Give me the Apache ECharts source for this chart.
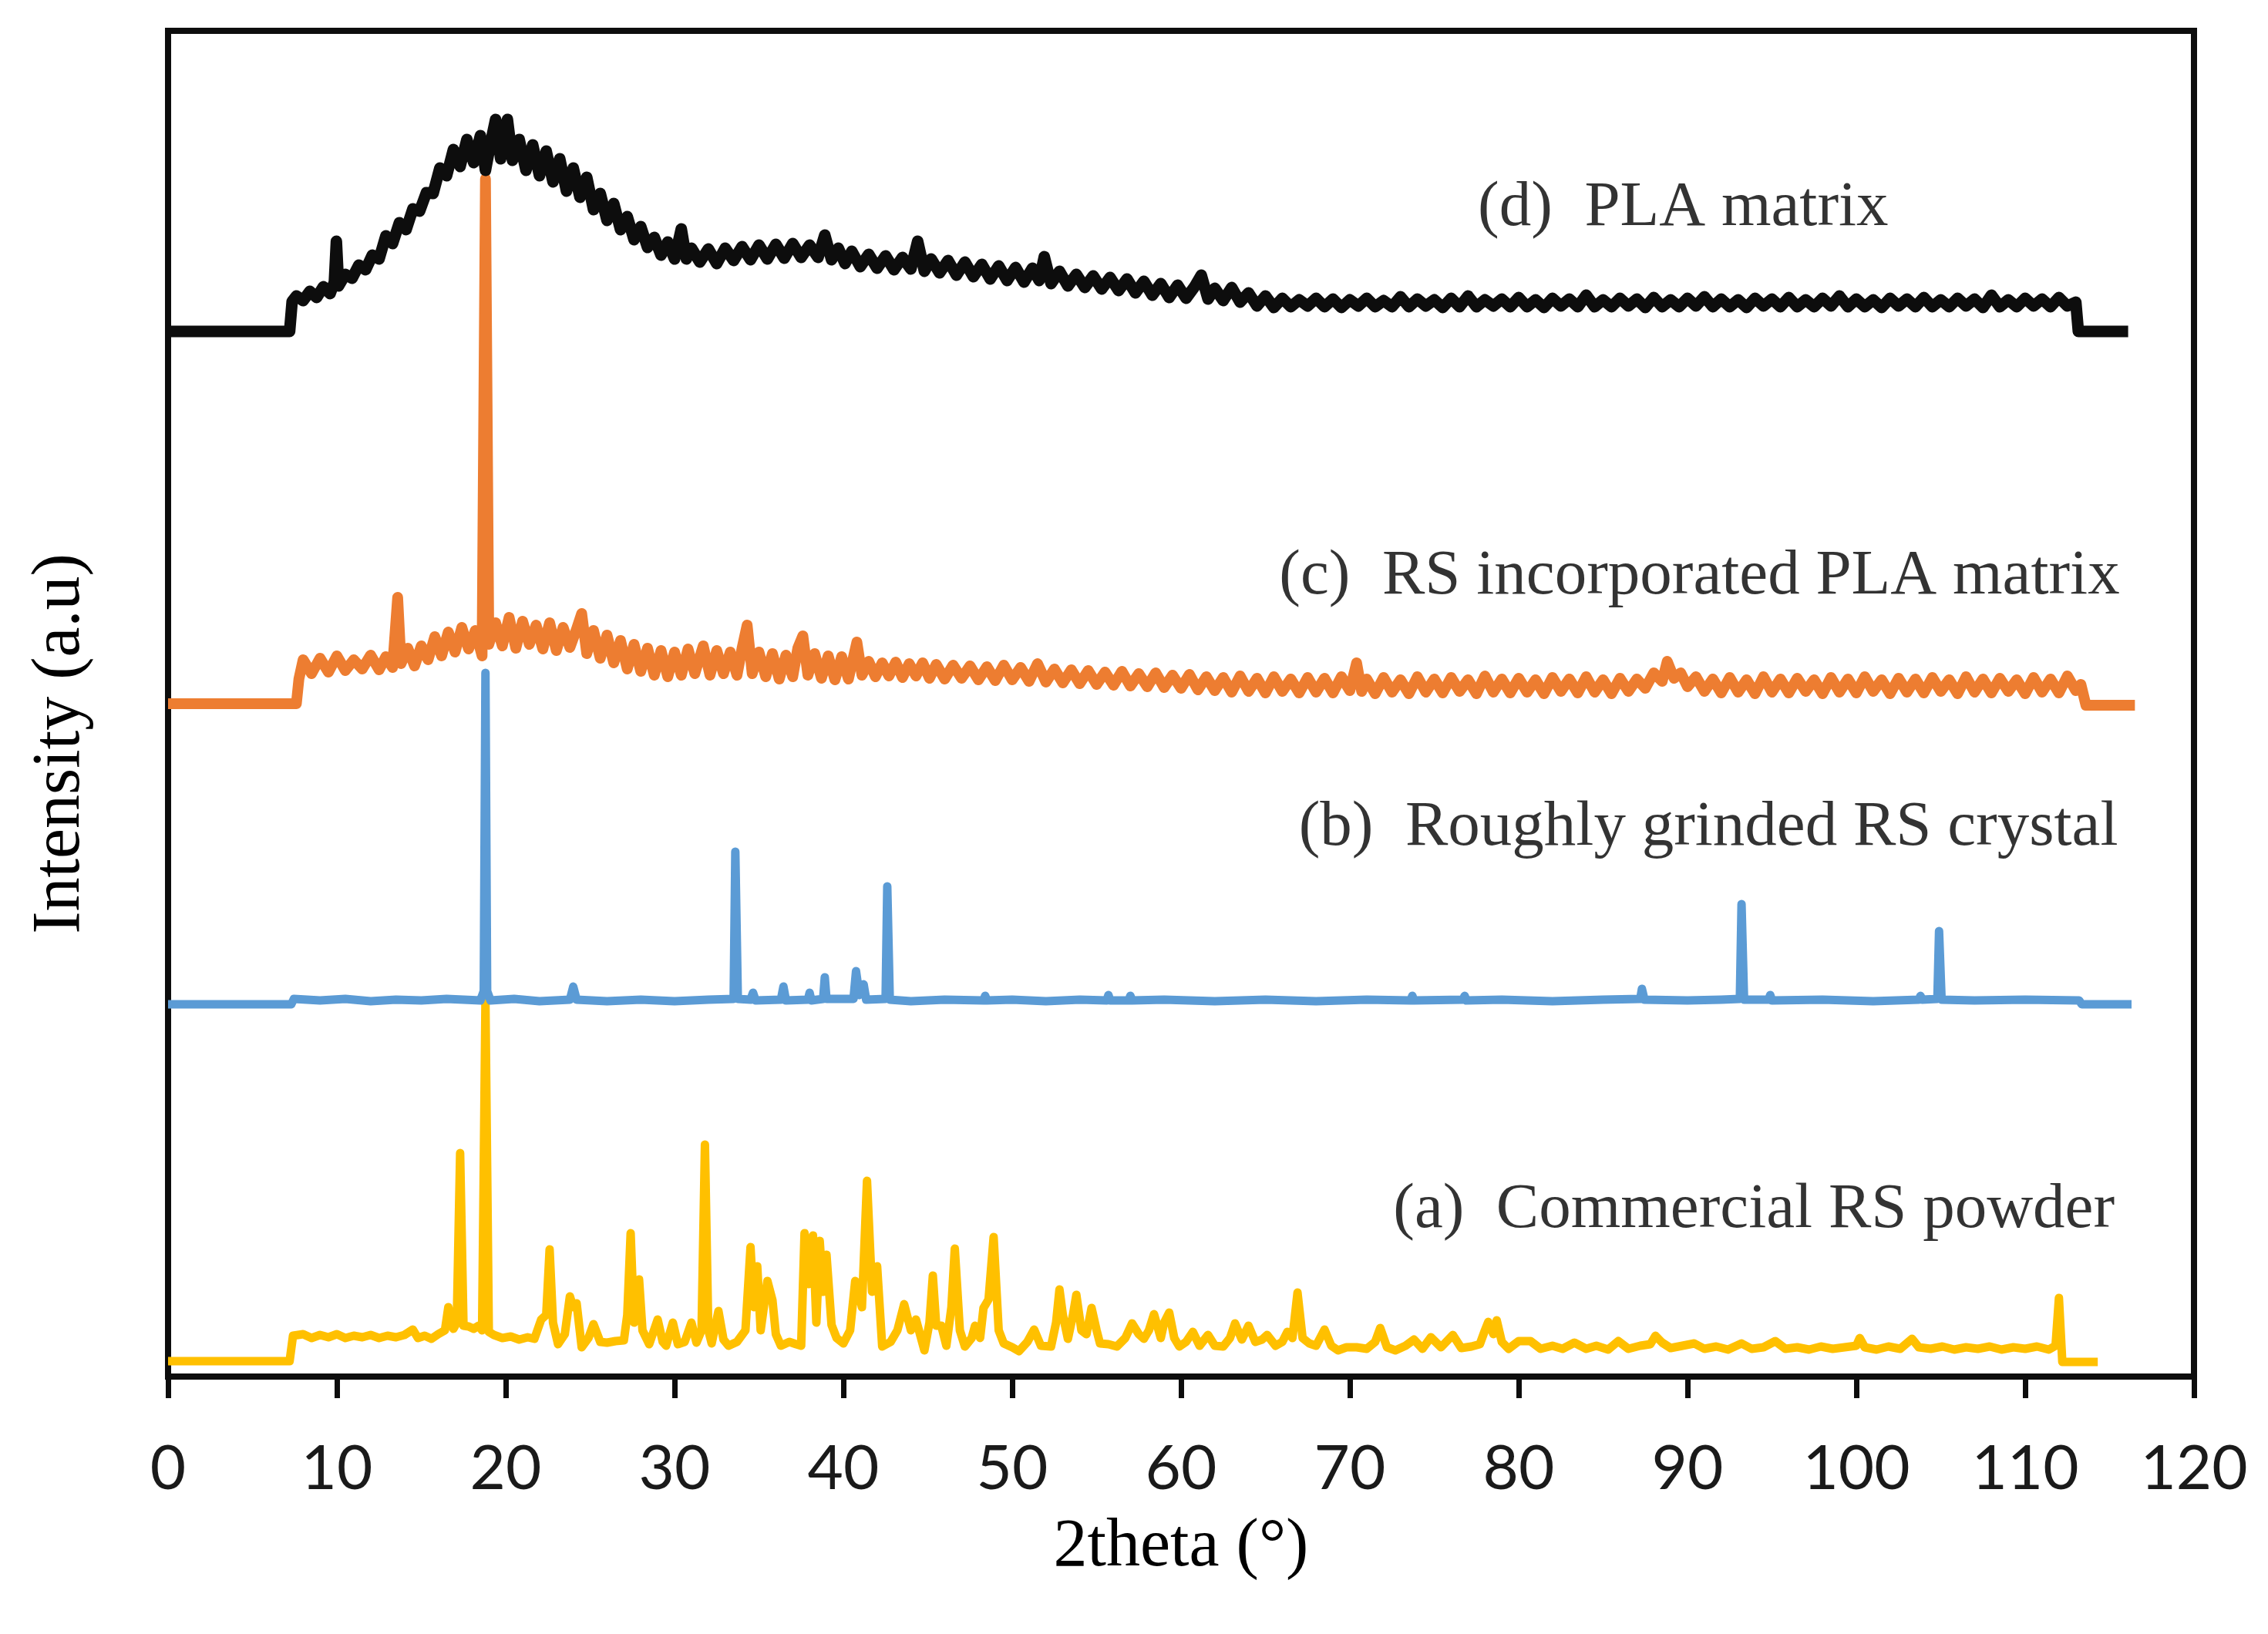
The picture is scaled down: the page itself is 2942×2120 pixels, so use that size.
<!DOCTYPE html>
<html>
<head>
<meta charset="utf-8">
<title>XRD patterns</title>
<script src="https://cdn.jsdelivr.net/npm/echarts/dist/echarts.min.js"></script>
<style>
  html, body { margin: 0; padding: 0; background: #fff; }
  #chart { width: 2942px; height: 2120px; }
</style>
</head>
<body>
<div id="chart"></div>
<script>
// x = 2theta (deg), y = intensity (a.u., traces stacked with offsets)
var commercialRS = [
  [0, 20], [7.2, 20], [7.4, 53], [8, 55], [8.5, 50], [9, 54], [9.5, 51], [10, 55], [10.5, 50], [11, 53], [11.5, 51], [12, 54],
  [12.5, 50], [13, 53], [13.5, 51], [14, 54], [14.5, 61], [14.8, 50], [15.2, 53], [15.6, 49], [16, 55], [16.4, 60], [16.6, 90],
  [16.9, 62], [17.1, 70], [17.3, 290], [17.5, 66], [17.8, 65], [18.1, 62], [18.4, 66], [18.6, 60], [18.8, 486], [19.0, 58],
  [19.3, 54], [19.8, 50], [20.3, 52], [20.8, 48], [21.3, 51], [21.7, 49], [22.1, 74], [22.4, 80], [22.6, 165], [22.8, 70],
  [23.1, 42], [23.5, 55], [23.8, 104], [24.0, 90], [24.2, 95], [24.5, 38], [24.9, 50], [25.2, 68], [25.6, 45], [26.0, 44],
  [26.5, 46], [27.0, 47], [27.2, 80], [27.4, 186], [27.6, 70], [27.9, 126], [28.1, 60], [28.5, 42], [29.0, 74], [29.3, 45],
  [29.5, 40], [29.9, 70], [30.2, 42], [30.6, 45], [31.0, 70], [31.3, 44], [31.6, 60], [31.8, 301], [32.0, 60], [32.2, 43],
  [32.6, 85], [32.9, 48], [33.2, 40], [33.7, 45], [34.2, 60], [34.5, 168], [34.7, 90], [34.9, 143], [35.1, 60], [35.5, 124],
  [35.8, 99], [36.0, 55], [36.3, 40], [36.8, 45], [37.2, 42], [37.5, 40], [37.7, 186], [37.95, 120], [38.2, 183], [38.4, 70],
  [38.6, 176], [38.8, 110], [39.0, 158], [39.3, 67], [39.6, 50], [40.0, 43], [40.4, 60], [40.7, 124], [40.9, 110], [41.1, 90],
  [41.4, 254], [41.7, 110], [42.0, 143], [42.3, 39], [42.8, 45], [43.2, 60], [43.6, 94], [44.0, 60], [44.3, 74], [44.8, 34],
  [45.1, 70], [45.3, 131], [45.5, 66], [45.8, 66], [46.1, 40], [46.4, 90], [46.6, 166], [46.9, 60], [47.2, 39], [47.6, 50],
  [47.8, 66], [48.1, 50], [48.3, 89], [48.6, 100], [48.9, 181], [49.2, 60], [49.5, 43], [50.0, 38], [50.4, 33], [50.9, 45],
  [51.3, 61], [51.7, 40], [52.3, 39], [52.6, 70], [52.8, 113], [53.0, 80], [53.3, 49], [53.6, 80], [53.8, 106], [54.1, 60],
  [54.4, 55], [54.7, 89], [55.0, 60], [55.2, 43], [55.7, 42], [56.2, 39], [56.7, 50], [57.1, 69], [57.5, 55], [57.8, 49],
  [58.1, 60], [58.4, 81], [58.8, 50], [59.0, 70], [59.3, 83], [59.6, 50], [59.9, 39], [60.3, 45], [60.7, 58], [61.1, 40],
  [61.6, 54], [62.0, 40], [62.5, 39], [62.9, 50], [63.2, 69], [63.6, 48], [64.0, 66], [64.4, 45], [64.8, 48], [65.1, 54],
  [65.6, 40], [66.0, 45], [66.3, 58], [66.6, 50], [66.9, 109], [67.2, 50], [67.6, 43], [68.0, 40], [68.5, 61], [68.9, 40],
  [69.3, 34], [69.8, 38], [70.4, 38], [71.0, 36], [71.5, 45], [71.8, 63], [72.2, 38], [72.7, 34], [73.3, 40], [73.8, 48],
  [74.3, 36], [74.8, 51], [75.4, 38], [76.1, 54], [76.6, 37], [77.2, 39], [77.7, 42], [78.0, 60], [78.2, 71], [78.5, 55],
  [78.7, 73], [79.0, 45], [79.4, 36], [80.0, 46], [80.7, 46], [81.3, 36], [82.0, 40], [82.6, 36], [83.3, 44], [84.0, 36],
  [84.6, 40], [85.3, 35], [85.9, 46], [86.5, 36], [87.2, 40], [87.8, 42], [88.1, 53], [88.5, 44], [89.0, 37], [89.7, 40],
  [90.4, 43], [91.0, 36], [91.7, 39], [92.4, 35], [93.2, 43], [93.8, 36], [94.5, 38], [95.2, 46], [95.8, 36], [96.5, 38],
  [97.2, 35], [97.9, 39], [98.6, 36], [99.3, 38], [100.0, 40], [100.2, 50], [100.5, 38], [101.2, 35], [101.9, 39], [102.6, 36],
  [103.3, 49], [103.7, 38], [104.4, 36], [105.1, 39], [105.8, 35], [106.5, 38], [107.2, 36], [107.9, 39], [108.6, 35],
  [109.3, 38], [110.0, 36], [110.7, 39], [111.4, 35], [111.8, 40], [112.0, 102], [112.2, 19], [114.3, 19]
];

var groundRS = [
  [0, 483], [7.3, 483], [7.45, 490], [9, 488], [10.5, 490], [12, 487], [13.5, 489], [15, 488], [16.5, 490], [18.5, 488],
  [18.7, 500], [18.8, 913], [18.9, 500], [19.1, 488], [20.5, 490], [22, 487], [23.8, 489], [24.0, 506], [24.2, 489], [26, 487],
  [28, 489], [30, 487], [32, 489], [33.5, 490], [33.6, 681], [33.75, 490], [34.5, 489], [34.65, 498], [34.8, 488], [36.3, 489],
  [36.45, 506], [36.6, 488], [37.9, 489], [38.0, 498], [38.1, 488], [38.8, 490], [38.9, 518], [39.0, 490], [40.6, 490],
  [40.75, 526], [40.95, 495], [41.2, 509], [41.35, 489], [42.5, 490], [42.6, 636], [42.75, 489], [44, 487], [46, 489],
  [48.3, 488], [48.4, 494], [48.5, 488], [50, 489], [52, 487], [54, 489], [55.6, 488], [55.7, 495], [55.8, 488], [56.9, 488],
  [57.0, 494], [57.1, 488], [59, 489], [62, 487], [65, 489], [68, 487], [71, 489], [73.6, 488], [73.7, 494], [73.8, 488],
  [76.7, 489], [76.8, 494], [76.9, 488], [79, 489], [82, 487], [85, 489], [87.2, 490], [87.3, 503], [87.45, 489], [90, 488],
  [92, 489], [93.1, 490], [93.2, 613], [93.35, 489], [94.8, 489], [94.9, 495], [95.0, 488], [98, 489], [101, 487], [103.7, 489],
  [103.8, 494], [103.9, 489], [104.8, 490], [104.9, 578], [105.05, 489], [107, 488], [110, 489], [113.2, 488], [113.35, 483],
  [116.3, 483]
];

var rsPLA = [
  [0, 873], [7.6, 873], [7.75, 905], [8.0, 930], [8.5, 912], [9.0, 932], [9.5, 914], [10.0, 935], [10.5, 916], [11.0, 930],
  [11.5, 918], [12.0, 936], [12.5, 917], [12.9, 934], [13.3, 920], [13.6, 1011], [13.8, 925], [14.2, 945], [14.6, 922],
  [15.0, 948], [15.4, 930], [15.8, 960], [16.2, 935], [16.6, 966], [17.0, 940], [17.4, 972], [17.8, 944], [18.2, 968],
  [18.6, 935], [18.8, 1554], [19.0, 950], [19.4, 978], [19.8, 948], [20.2, 985], [20.6, 945], [21.0, 980], [21.4, 950],
  [21.8, 975], [22.2, 944], [22.6, 978], [23.0, 942], [23.4, 972], [23.8, 946], [24.2, 970], [24.5, 990], [24.8, 938],
  [25.2, 968], [25.6, 932], [26.0, 962], [26.4, 926], [26.8, 955], [27.2, 918], [27.6, 950], [28.0, 915], [28.4, 945],
  [28.8, 910], [29.2, 942], [29.6, 908], [30.0, 940], [30.4, 910], [30.8, 944], [31.2, 912], [31.7, 948], [32.1, 910],
  [32.5, 942], [32.9, 912], [33.3, 940], [33.7, 910], [34.0, 945], [34.3, 975], [34.6, 912], [35.0, 940], [35.4, 908],
  [35.8, 938], [36.2, 905], [36.6, 936], [37.0, 908], [37.3, 945], [37.6, 961], [37.9, 910], [38.3, 938], [38.7, 906],
  [39.1, 935], [39.5, 904], [39.9, 934], [40.3, 905], [40.8, 953], [41.1, 910], [41.5, 928], [41.9, 908], [42.3, 926],
  [42.7, 909], [43.1, 927], [43.5, 907], [43.9, 925], [44.3, 909], [44.7, 926], [45.1, 906], [45.5, 924], [46.0, 905],
  [46.5, 923], [47.0, 906], [47.5, 922], [48.0, 904], [48.5, 921], [49.0, 903], [49.5, 923], [50.0, 904], [50.5, 920],
  [51.0, 902], [51.5, 925], [52.0, 901], [52.5, 918], [53.0, 900], [53.5, 917], [54.0, 899], [54.5, 916], [55.0, 898],
  [55.5, 914], [56.0, 897], [56.5, 915], [57.0, 896], [57.5, 912], [58.0, 895], [58.5, 913], [59.0, 894], [59.5, 910],
  [60.0, 893], [60.5, 911], [61.0, 891], [61.5, 908], [62.0, 890], [62.5, 907], [63.0, 888], [63.5, 909], [64.0, 889],
  [64.5, 906], [65.0, 887], [65.5, 908], [66.0, 889], [66.5, 905], [67.0, 887], [67.5, 907], [68.0, 888], [68.5, 906],
  [69.0, 887], [69.5, 908], [70.0, 890], [70.4, 926], [70.7, 889], [71.0, 905], [71.5, 886], [72.0, 907], [72.5, 888],
  [73.0, 904], [73.5, 886], [74.0, 908], [74.5, 888], [75.0, 905], [75.5, 887], [76.0, 907], [76.5, 889], [77.0, 904],
  [77.5, 886], [78.0, 909], [78.5, 888], [79.0, 905], [79.5, 887], [80.0, 906], [80.5, 888], [81.0, 904], [81.5, 886],
  [82.0, 907], [82.5, 889], [83.0, 905], [83.5, 887], [84.0, 908], [84.5, 888], [85.0, 904], [85.5, 886], [86.0, 906],
  [86.5, 889], [87.0, 905], [87.5, 893], [88.0, 913], [88.5, 902], [88.8, 928], [89.2, 906], [89.6, 913], [90.0, 895],
  [90.5, 908], [91.0, 889], [91.5, 905], [92.0, 887], [92.5, 907], [93.0, 888], [93.5, 904], [94.0, 886], [94.5, 908],
  [95.0, 888], [95.5, 905], [96.0, 887], [96.5, 906], [97.0, 889], [97.5, 904], [98.0, 886], [98.5, 907], [99.0, 888],
  [99.5, 905], [100.0, 887], [100.5, 908], [101.0, 889], [101.5, 904], [102.0, 886], [102.5, 906], [103.0, 888], [103.5, 905],
  [104.0, 887], [104.5, 907], [105.0, 889], [105.5, 904], [106.0, 886], [106.5, 908], [107.0, 888], [107.5, 905], [108.0, 887],
  [108.5, 906], [109.0, 889], [109.5, 904], [110.0, 886], [110.5, 907], [111.0, 888], [111.5, 905], [112.0, 887], [112.5, 909],
  [113.0, 890], [113.3, 898], [113.6, 871], [116.5, 871]
];

var plaMatrix = [
  [0, 1356], [7.2, 1356], [7.35, 1395], [7.6, 1402], [8.0, 1396], [8.4, 1408], [8.8, 1400], [9.2, 1414], [9.6, 1405],
  [9.85, 1420], [9.97, 1473], [10.1, 1415], [10.5, 1430], [10.9, 1425], [11.3, 1442], [11.7, 1436], [12.1, 1455], [12.5, 1450],
  [12.9, 1480], [13.3, 1470], [13.7, 1497], [14.1, 1488], [14.5, 1515], [14.9, 1512], [15.3, 1536], [15.7, 1535], [16.1, 1568],
  [16.5, 1558], [16.9, 1592], [17.3, 1570], [17.7, 1605], [18.1, 1575], [18.5, 1610], [18.8, 1565], [19.1, 1600], [19.4, 1631],
  [19.7, 1580], [20.1, 1631], [20.4, 1578], [20.8, 1605], [21.2, 1565], [21.6, 1598], [22.0, 1558], [22.4, 1590], [22.8, 1550],
  [23.2, 1580], [23.6, 1538], [24.0, 1568], [24.4, 1530], [24.8, 1556], [25.2, 1514], [25.6, 1535], [26.0, 1500], [26.4, 1522],
  [26.8, 1488], [27.2, 1505], [27.6, 1475], [28.0, 1492], [28.4, 1465], [28.8, 1478], [29.2, 1455], [29.6, 1472], [30.0, 1450],
  [30.4, 1489], [30.7, 1450], [31.0, 1464], [31.5, 1446], [32.0, 1463], [32.5, 1444], [33.0, 1464], [33.5, 1448], [34.0, 1466],
  [34.5, 1449], [35.0, 1468], [35.5, 1450], [36.0, 1469], [36.5, 1451], [37.0, 1470], [37.5, 1452], [38.0, 1468], [38.5, 1452],
  [38.9, 1481], [39.3, 1449], [39.7, 1464], [40.1, 1444], [40.5, 1460], [41.0, 1440], [41.5, 1456], [42.0, 1438], [42.5, 1454],
  [43.0, 1436], [43.5, 1452], [44.0, 1437], [44.4, 1473], [44.8, 1434], [45.2, 1450], [45.7, 1432], [46.2, 1448], [46.7, 1429],
  [47.2, 1446], [47.7, 1427], [48.2, 1443], [48.7, 1424], [49.2, 1441], [49.7, 1422], [50.2, 1439], [50.7, 1420], [51.2, 1438],
  [51.6, 1422], [51.9, 1453], [52.3, 1418], [52.8, 1434], [53.3, 1415], [53.8, 1430], [54.3, 1413], [54.8, 1428], [55.3, 1411],
  [55.8, 1426], [56.3, 1409], [56.8, 1424], [57.3, 1406], [57.8, 1421], [58.3, 1403], [58.8, 1418], [59.3, 1400], [59.8, 1416],
  [60.3, 1399], [60.8, 1414], [61.2, 1429], [61.6, 1398], [62.0, 1412], [62.5, 1396], [63.0, 1413], [63.5, 1394], [64.0, 1406],
  [64.5, 1389], [65.0, 1402], [65.5, 1387], [66.0, 1399], [66.5, 1388], [67.0, 1397], [67.5, 1389], [68.0, 1399], [68.5, 1388],
  [69.0, 1398], [69.5, 1387], [70.0, 1397], [70.5, 1389], [71.0, 1399], [71.5, 1388], [72.0, 1396], [72.5, 1388], [73.0, 1401],
  [73.5, 1388], [74.0, 1398], [74.5, 1389], [75.0, 1397], [75.5, 1387], [76.0, 1399], [76.5, 1388], [77.0, 1402], [77.5, 1388],
  [78.0, 1397], [78.5, 1389], [79.0, 1398], [79.5, 1388], [80.0, 1400], [80.5, 1388], [81.0, 1397], [81.5, 1387], [82.0, 1399],
  [82.5, 1389], [83.0, 1398], [83.5, 1388], [84.0, 1403], [84.5, 1388], [85.0, 1397], [85.5, 1388], [86.0, 1399], [86.5, 1389],
  [87.0, 1398], [87.5, 1387], [88.0, 1400], [88.5, 1388], [89.0, 1397], [89.5, 1388], [90.0, 1399], [90.5, 1389], [91.0, 1401],
  [91.5, 1388], [92.0, 1398], [92.5, 1388], [93.0, 1397], [93.5, 1387], [94.0, 1399], [94.5, 1389], [95.0, 1398], [95.5, 1388],
  [96.0, 1400], [96.5, 1388], [97.0, 1397], [97.5, 1388], [98.0, 1399], [98.5, 1389], [99.0, 1402], [99.5, 1388], [100.0, 1398],
  [100.5, 1388], [101.0, 1397], [101.5, 1387], [102.0, 1399], [102.5, 1389], [103.0, 1398], [103.5, 1388], [104.0, 1400],
  [104.5, 1388], [105.0, 1397], [105.5, 1388], [106.0, 1399], [106.5, 1389], [107.0, 1398], [107.5, 1387], [108.0, 1403],
  [108.5, 1388], [109.0, 1397], [109.5, 1388], [110.0, 1399], [110.5, 1389], [111.0, 1398], [111.5, 1388], [112.0, 1400],
  [112.5, 1389], [113.0, 1394], [113.15, 1356], [116.1, 1356]
];

// trace captions: right end (2theta) and vertical centre (intensity)
var captionText = ['(d)  PLA matrix', '(c)  RS incorporated PLA matrix', '(b)  Roughly grinded RS crystal', '(a)  Commercial RS powder'];
var captionX = [101.9, 115.6, 115.5, 115.3];
var captionY = [1516, 1038, 712, 216];

var xMin = 0, xMax = 120, xStep = 10;
var yMin = 0, yMax = 1746;

var serif = "'Liberation Serif', 'Times New Roman', serif";

function traceSeries(name, color, width, data) {
  return {
    name: name,
    type: 'line',
    data: data,
    showSymbol: false,
    symbol: 'none',
    silent: true,
    animation: false,
    lineStyle: { color: color, width: width, join: 'round' }
  };
}

var myChart = echarts.init(document.getElementById('chart'), null, { renderer: 'canvas' }),
  option = {
    backgroundColor: '#ffffff',
    animation: false,
    grid: {
      left: 218,
      right: 96,
      top: 40,
      bottom: 334,
      show: true,
      borderColor: '#0d0d0d',
      borderWidth: 8
    },
    xAxis: {
      type: 'value',
      min: xMin,
      max: xMax,
      interval: xStep,
      name: '2theta (°)',
      nameLocation: 'middle',
      nameGap: 178,
      nameTextStyle: { fontFamily: serif, fontSize: 88, color: '#000' },
      axisLine: { show: true, lineStyle: { color: '#0d0d0d', width: 8 } },
      axisTick: { show: true, inside: false, length: 28, lineStyle: { color: '#0d0d0d', width: 7 } },
      axisLabel: { fontFamily: 'Lato, sans-serif', fontSize: 80, color: '#1a1a1a', margin: 80 },
      splitLine: { show: false }
    },
    yAxis: {
      type: 'value',
      min: yMin,
      max: yMax,
      axisLine: { show: true, lineStyle: { color: '#0d0d0d', width: 8 } },
      axisTick: { show: false },
      axisLabel: { show: false },
      splitLine: { show: false }
    },
    graphic: [{
      type: 'text',
      x: 79,
      y: 965,
      rotation: Math.PI / 2,
      style: {
        text: 'Intensity (a.u)',
        fontFamily: serif,
        fontSize: 88,
        fill: '#000',
        align: 'center',
        verticalAlign: 'middle'
      }
    }],
    series: [
      traceSeries('Commercial RS powder', '#FFC000', 11, commercialRS),
      traceSeries('Roughly grinded RS crystal', '#5B9BD5', 11, groundRS),
      traceSeries('RS incorporated PLA matrix', '#ED7D31', 14, rsPLA),
      traceSeries('PLA matrix', '#0d0d0d', 15, plaMatrix),
      {
        type: 'scatter',
        symbolSize: 0,
        silent: true,
        animation: false,
        data: captionText.map(function (t, i) {
          return { value: [captionX[i], captionY[i]], name: t };
        }),
        label: {
          show: true,
          position: 'left',
          distance: 0,
          formatter: '{b}',
          fontFamily: serif,
          fontSize: 83,
          color: '#000'
        }
      }
    ]
  };
myChart.setOption(option, true);
</script>
</body>
</html>
